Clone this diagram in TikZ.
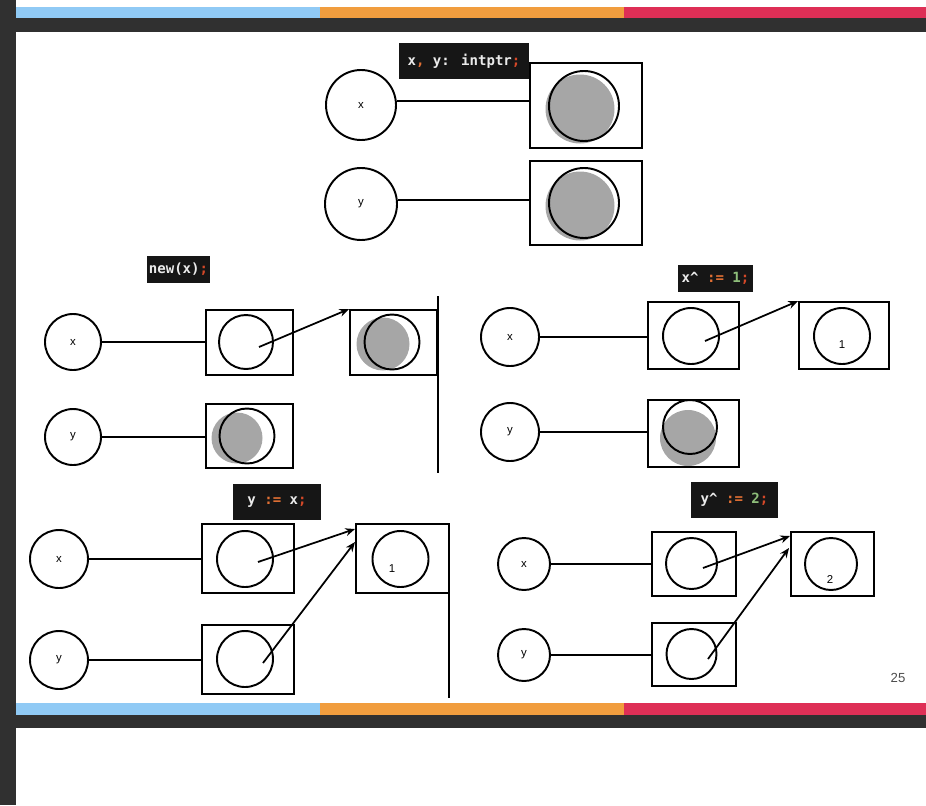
\documentclass[tikz,border=0pt]{standalone}
\usepackage{fontspec}
\usepackage{tikz}
\usetikzlibrary{arrows.meta}
\newfontfamily\labfont{Liberation Sans}
\newfontfamily\codefont{DejaVu Sans Mono}
\definecolor{codebg}{RGB}{22,22,22}
\definecolor{codeop}{RGB}{226,112,52}
\definecolor{codesemi}{RGB}{212,72,40}
\definecolor{codenum}{RGB}{142,190,122}
\definecolor{barblue}{RGB}{144,202,245}
\definecolor{barorange}{RGB}{241,157,62}
\definecolor{barred}{RGB}{222,47,86}
\definecolor{bardark}{RGB}{48,48,48}
\newcommand{\pu}{0.02cm}
\tikzset{
  % variable circle (name on the stack)
  varnode/.style={circle, draw, line width=1.1pt, minimum size=#1*\pu, inner sep=0pt,
                  font=\labfont\fontsize{6.5}{7}\selectfont},
  % memory cell
  cellbox/.style 2 args={rectangle, draw, line width=1.1pt, minimum width=#1*\pu,
                  minimum height=#2*\pu, inner sep=0pt},
  % object circle inside a cell
  objnode/.style={circle, draw, line width=1.1pt, minimum size=#1*\pu, inner sep=0pt},
  % grey shade of an undefined object
  shadenode/.style={circle, fill=black!35, minimum size=#1*\pu, inner sep=0pt},
  % code snippet label
  codelabel/.style 2 args={fill=codebg, text=white!92!black, font=\codefont\bfseries\fontsize{8}{9}\selectfont,
                  minimum width=#1*\pu, minimum height=#2*\pu, inner sep=0pt},
  % value text
  valtext/.style={font=\labfont\fontsize{6.5}{7}\selectfont, inner sep=0pt},
  link/.style={line width=1pt},
  ptr/.style={-{Stealth[length=5.5pt,width=4.5pt]}, line width=1pt},
  divider/.style={line width=1.3pt},
}
\begin{document}
\begin{tikzpicture}[x=0.02cm, y=-0.02cm]
  \useasboundingbox (0,0) rectangle (926,805);
  % slide frame
  \fill[bardark] (0,0) rectangle (16,805);
  \fill[barblue] (16,7) rectangle (320,18);
  \fill[barorange] (320,7) rectangle (624,18);
  \fill[barred] (624,7) rectangle (926,18);
  \fill[bardark] (16,18) rectangle (926,32);
  \fill[barblue] (16,703) rectangle (320,715);
  \fill[barorange] (320,703) rectangle (624,715);
  \fill[barred] (624,703) rectangle (926,715);
  \fill[bardark] (16,715) rectangle (926,728);

  % declaration
  \node[codelabel={130}{36}] (code1) at (464,61) {x\textcolor{codeop}{,} y: intptr\textcolor{codesemi}{;}};
  \node[varnode=70] (vx1) at (361,105) {x};
  \node[varnode=72] (vy1) at (361,204) {y};
  \node[cellbox={112}{85}] (bx1) at (586,105.5) {};
  \node[cellbox={112}{84}] (by1) at (586,203) {};
  \node[shadenode=69] (gx1) at (580,109) {};
  \node[objnode=70] (cx1) at (584,106) {};
  \node[shadenode=69] (gy1) at (580,206) {};
  \node[objnode=70] (cy1) at (584,203) {};
  \draw[link] ([yshift=4*\pu]vx1.east) -- ([yshift=4*\pu]vx1.east -| bx1.west);
  \draw[link] ([yshift=4*\pu]vy1.east) -- ([yshift=4*\pu]vy1.east -| by1.west);

  % new(x)
  \node[codelabel={63}{27}] (code2) at (178.5,269.5) {new(x)\textcolor{codesemi}{;}};
  \node[varnode=56] (vx2) at (73,342) {x};
  \node[varnode=56] (vy2) at (73,437) {y};
  \node[cellbox={87}{65}] (bx2) at (249.5,342.5) {};
  \node[objnode=54] (cx2) at (246,342) {};
  \node[cellbox={87}{65}] (bh2) at (393.5,342.5) {};
  \node[shadenode=53] (gh2) at (383,344) {};
  \node[objnode=55] (ch2) at (392,342) {};
  \node[cellbox={87}{64}] (by2) at (249.5,436) {};
  \node[shadenode=51] (gy2) at (237,438) {};
  \node[objnode=55] (cy2) at (247,436) {};
  \coordinate (px2) at (259,347);
  \draw[link] (vx2.east) -- (vx2.east -| bx2.west);
  \draw[link] (vy2.east) -- (vy2.east -| by2.west);
  \draw[ptr] (px2) -- (bh2.north west);
  \coordinate (d1a) at (438,296);
  \coordinate (d1b) at (438,473);
  \draw[divider] (d1a) -- (d1b);

  % x^ := 1
  \node[codelabel={75}{27}] (code3) at (715.5,278.5) {x\textasciicircum{} \textcolor{codeop}{:=} \textcolor{codenum}{1}\textcolor{codesemi}{;}};
  \node[varnode=58] (vx3) at (510,337) {x};
  \node[varnode=58] (vy3) at (510,432) {y};
  \node[cellbox={91}{67}] (bx3) at (693.5,335.5) {};
  \node[objnode=56] (cx3) at (691,336) {};
  \node[cellbox={90}{67}] (bh3) at (844,335.5) {};
  \node[objnode=56] (ch3) at (842,336) {};
  \node[valtext] (v3) at (842,345) {1};
  \node[cellbox={91}{67}] (by3) at (693.5,433.5) {};
  \node[shadenode=56] (gy3) at (688,438) {};
  \node[objnode=54] (cy3) at (690,427) {};
  \coordinate (px3) at (705,341);
  \draw[link] (vx3.east) -- (vx3.east -| bx3.west);
  \draw[link] (vy3.east) -- (vy3.east -| by3.west);
  \draw[ptr] (px3) -- (bh3.north west);

  % y := x
  \node[codelabel={88}{36}] (code4) at (277,502) {y \textcolor{codeop}{:=} x\textcolor{codesemi}{;}};
  \node[varnode=58] (vx4) at (59,559) {x};
  \node[varnode=58] (vy4) at (59,660) {y};
  \node[cellbox={92}{69}] (bx4) at (248,558.5) {};
  \node[objnode=56] (cx4) at (245,559) {};
  \node[cellbox={93}{69}] (bh4) at (402.5,558.5) {};
  \node[objnode=56] (ch4) at (400.5,559) {};
  \node[valtext] (v4) at (392,569) {1};
  \node[cellbox={92}{69}] (by4) at (248,659.5) {};
  \node[objnode=56] (cy4) at (245,659) {};
  \coordinate (px4) at (258,562);
  \coordinate (py4) at (263,663);
  \coordinate (tx4) at (355,529);
  \coordinate (ty4) at (355,542);
  \draw[link] (vx4.east) -- (vx4.east -| bx4.west);
  \draw[link] (vy4.east) -- (vy4.east -| by4.west);
  \draw[ptr] (px4) -- (tx4);
  \draw[ptr] (py4) -- (ty4);
  \coordinate (d2a) at (449,524);
  \coordinate (d2b) at (449,698);
  \draw[divider] (d2a) -- (d2b);

  % y^ := 2
  \node[codelabel={87}{36}] (code5) at (734.5,500) {y\textasciicircum{} \textcolor{codeop}{:=} \textcolor{codenum}{2}\textcolor{codesemi}{;}};
  \node[varnode=52] (vx5) at (524,564) {x};
  \node[varnode=52] (vy5) at (524,655) {y};
  \node[cellbox={84}{64}] (bx5) at (694,564) {};
  \node[objnode=51] (cx5) at (691.5,563.5) {};
  \node[cellbox={83}{64}] (bh5) at (832.5,564) {};
  \node[objnode=52] (ch5) at (831,564) {};
  \node[valtext] (v5) at (830,580) {2};
  \node[cellbox={84}{63}] (by5) at (694,654.5) {};
  \node[objnode=50] (cy5) at (691.5,654) {};
  \coordinate (px5) at (703,568);
  \coordinate (py5) at (708,659);
  \coordinate (tx5) at (790,536);
  \coordinate (ty5) at (789,548);
  \draw[link] (vx5.east) -- (vx5.east -| bx5.west);
  \draw[link] (vy5.east) -- (vy5.east -| by5.west);
  \draw[ptr] (px5) -- (tx5);
  \draw[ptr] (py5) -- (ty5);

  % page number
  \node[font=\labfont\fontsize{7.5}{8}\selectfont, text=black!70] (pg) at (898,678) {25};
\end{tikzpicture}
\end{document}
